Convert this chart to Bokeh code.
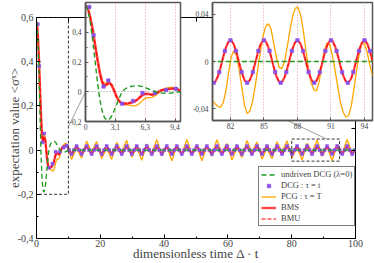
from bokeh.plotting import figure
from bokeh.models import FixedTicker, LinearAxis, Legend, LegendItem
from bokeh.embed import file_html
from bokeh.resources import INLINE

FONT = "Liberation Serif"

# ---------------- data ----------------
t_early = [0.0, 0.25, 0.5, 0.75, 1.0, 1.25, 1.5, 1.75, 2.0, 2.25, 2.5, 2.75, 3.0, 3.25, 3.5,
           3.75, 4.0, 4.25, 4.5, 4.75, 5.0, 5.25, 5.5, 5.75, 6.0, 6.25, 6.5, 6.75, 7.0, 7.25,
           7.5, 7.75, 8.0, 8.25, 8.5, 8.75, 9.0, 9.25, 9.5, 9.75, 10.0]
undriven_early = [0.58, 0.55, 0.47, 0.35, 0.21, 0.07, -0.05, -0.13, -0.175, -0.19, -0.185, -0.165,
                  -0.13, -0.09, -0.05, -0.015, 0.01, 0.022, 0.03, 0.035, 0.038, 0.04, 0.04, 0.038,
                  0.035, 0.029, 0.022, 0.016, 0.01, 0.004, -0.002, -0.005, -0.008, -0.009, -0.01,
                  -0.009, -0.008, -0.006, -0.004, -0.002, 0.0]
bms_early = [0.58, 0.56, 0.50, 0.42, 0.32, 0.22, 0.13, 0.065, 0.04, 0.05, 0.06, 0.045, 0.01,
             -0.03, -0.06, -0.075, -0.08, -0.08, -0.078, -0.074, -0.07, -0.062, -0.05, -0.035,
             -0.022, -0.015, -0.014, -0.017, -0.02, -0.016, -0.008, 0.002, 0.01, 0.014, 0.016,
             0.018, 0.02, 0.022, 0.021, 0.015, 0.006]
pcg_early = [0.58, 0.56, 0.50, 0.42, 0.32, 0.22, 0.135, 0.075, 0.055, 0.065, 0.07, 0.05, 0.01,
             -0.035, -0.065, -0.08, -0.085, -0.088, -0.09, -0.092, -0.095, -0.094, -0.088, -0.075,
             -0.058, -0.045, -0.04, -0.04, -0.038, -0.03, -0.018, -0.005, 0.008, 0.018, 0.024,
             0.028, 0.03, 0.03, 0.026, 0.016, 0.004]
dcg_early_t = [0.4, 0.85, 1.9, 2.4, 3.85, 5.0, 6.0, 7.3, 8.5, 9.5]
dcg_early = [0.57, 0.38, 0.035, 0.075, -0.08, -0.062, -0.008, -0.008, 0.012, 0.02]

t_late = [10.21, 11.00, 11.78, 12.57, 13.35, 14.14, 14.92, 15.71, 16.49, 17.28, 18.06, 18.85,
          19.63, 20.42, 21.21, 21.99, 22.78, 23.56, 24.35, 25.13, 25.92, 26.70, 27.49, 28.27,
          29.06, 29.85, 30.63, 31.42, 32.20, 32.99, 33.77, 34.56, 35.34, 36.13, 36.91, 37.70,
          38.48, 39.27, 40.06, 40.84, 41.63, 42.41, 43.20, 43.98, 44.77, 45.55, 46.34, 47.12,
          47.91, 48.69, 49.48, 50.27, 51.05, 51.84, 52.62, 53.41, 54.19, 54.98, 55.76, 56.55,
          57.33, 58.12, 58.90, 59.69, 60.48, 61.26, 62.05, 62.83, 63.62, 64.40, 65.19, 65.97,
          66.76, 67.54, 68.33, 69.12, 69.90, 70.69, 71.47, 72.26, 73.04, 73.83, 74.61, 75.40,
          76.18, 76.97, 77.75, 78.54, 79.33, 80.11, 80.90, 81.68, 82.47, 83.25, 84.04, 84.82,
          85.61, 86.39, 87.18, 87.96, 88.75, 89.54, 90.32, 91.11, 91.89, 92.68, 93.46, 94.25,
          95.03, 95.82, 96.60, 97.39, 98.17, 98.96, 99.75]
bms_late = [0, -0.018, 0, 0.018, 0, -0.018, 0, 0.018, 0, -0.018, 0, 0.018, 0, -0.018, 0, 0.018,
            0, -0.018, 0, 0.018, 0, -0.018, 0, 0.018, 0, -0.018, 0, 0.018, 0, -0.018, 0, 0.018,
            0, -0.018, 0, 0.018, 0, -0.018, 0, 0.018, 0, -0.018, 0, 0.018, 0, -0.018, 0, 0.018,
            0, -0.018, 0, 0.018, 0, -0.018, 0, 0.018, 0, -0.018, 0, 0.018, 0, -0.018, 0, 0.018,
            0, -0.018, 0, 0.018, 0, -0.018, 0, 0.018, 0, -0.018, 0, 0.018, 0, -0.018, 0, 0.018,
            0, -0.018, 0, 0.018, 0, -0.018, 0, 0.018, 0, -0.018, 0, 0.018, 0, -0.018, 0, 0.018,
            0, -0.018, 0, 0.018, 0, -0.018, 0, 0.018, 0, -0.018, 0, 0.018, 0, -0.018, 0, 0.018,
            0, -0.018, 0]
pcg_late = [-0.006, -0.043, -0.017, 0.013, -0.014, -0.036, 0.003, 0.041,
            0.016, -0.012, 0.015, 0.039, 0.001, -0.038, -0.015, 0.012,
            -0.017, -0.042, -0.004, 0.035, 0.013, -0.013, 0.018, 0.044,
            0.007, -0.032, -0.010, 0.014, -0.018, -0.046, -0.010, 0.028,
            0.007, -0.016, 0.018, 0.047, 0.013, -0.025, -0.004, 0.018,
            -0.017, -0.048, -0.015, 0.022, 0.001, -0.021, 0.015, 0.048,
            0.016, -0.019, 0.003, 0.024, -0.014, -0.048, -0.017, 0.017,
            -0.006, -0.027, 0.011, 0.047, 0.018, -0.015, 0.009, 0.030,
            -0.009, -0.045, -0.018, 0.013, -0.011, -0.033, 0.005, 0.043,
            0.017, -0.012, 0.014, 0.036, -0.002, -0.041, -0.016, 0.012,
            -0.016, -0.039, -0.001, 0.038, 0.014, -0.012, 0.017, 0.042,
            0.004, -0.035, -0.012, 0.013, -0.018, -0.044, -0.007, 0.031,
            0.010, -0.014, 0.018, 0.046, 0.010, -0.028, -0.007, 0.016,
            -0.018, -0.047, -0.013, 0.025, 0.004, -0.018, 0.017, 0.048,
            0.015, -0.022, -0.001]
undriven_late_t = [10.0, 100.0]
undriven_late = [0.0, 0.0]

t_zoom = [80.0, 80.25, 80.5, 80.75, 81.0, 81.25, 81.5, 81.75, 82.0, 82.25, 82.5, 82.75, 83.0,
          83.25, 83.5, 83.75, 84.0, 84.25, 84.5, 84.75, 85.0, 85.25, 85.5, 85.75, 86.0, 86.25,
          86.5, 86.75, 87.0, 87.25, 87.5, 87.75, 88.0, 88.25, 88.5, 88.75, 89.0, 89.25, 89.5,
          89.75, 90.0, 90.25, 90.5, 90.75, 91.0, 91.25, 91.5, 91.75, 92.0, 92.25, 92.5, 92.75,
          93.0, 93.25, 93.5, 93.75, 94.0, 94.25, 94.5, 94.75, 95.0]
bms_zoom = [-0.0176, -0.0173, -0.0128, -0.0052, 0.0037, 0.0117, 0.0168, 0.0178, 0.0145, 0.0076,
            -0.0012, -0.0096, -0.0158, -0.018, -0.0158, -0.0098, -0.0014, 0.0074, 0.0144, 0.0178,
            0.0169, 0.0118, 0.0039, -0.005, -0.0127, -0.0173, -0.0176, -0.0136, -0.0063, 0.0025,
            0.0108, 0.0164, 0.0179, 0.0151, 0.0086, 0.0, -0.0086, -0.0151, -0.018, -0.0164,
            -0.0108, -0.0025, 0.0063, 0.0136, 0.0176, 0.0173, 0.0127, 0.005, -0.0039, -0.0118,
            -0.0169, -0.0178, -0.0144, -0.0074, 0.0014, 0.0098, 0.0158, 0.018, 0.0153, 0.0089,
            0.0003]
pcg_zoom = [-0.033, -0.036, -0.038, -0.039, -0.035, -0.025, -0.010, 0.004, 0.009, 0.005, -0.007,
            -0.022, -0.037, -0.044, -0.042, -0.034, -0.021, -0.006, 0.009, 0.022, 0.030, 0.032,
            0.027, 0.015, 0.003, -0.005, -0.006, 0.000, 0.012, 0.026, 0.038, 0.045, 0.046, 0.040,
            0.027, 0.010, -0.006, -0.018, -0.024, -0.025, -0.017, -0.003, 0.010, 0.016, 0.014,
            0.005, -0.008, -0.022, -0.035, -0.043, -0.047, -0.046, -0.038, -0.024, -0.008, 0.006,
            0.015, 0.015, 0.008, -0.003, -0.012]
dcg_zoom_t = [80.11, 80.63, 81.16, 81.68, 82.20, 82.73, 83.25, 83.78, 84.30, 84.82, 85.35, 85.87,
              86.39, 86.92, 87.44, 87.96, 88.49, 89.01, 89.54, 90.06, 90.58, 91.11, 91.63, 92.15,
              92.68, 93.20, 93.73, 94.25, 94.77]
dcg_zoom = [-0.018, -0.009, 0.009, 0.018, 0.009, -0.009, -0.018, -0.009, 0.009, 0.018, 0.009,
            -0.009, -0.018, -0.009, 0.009, 0.018, 0.009, -0.009, -0.018, -0.009, 0.009, 0.018,
            0.009, -0.009, -0.018, -0.009, 0.009, 0.018, 0.009]

# axes / ticks
main_x_ticks = [0, 20, 40, 60, 80, 100]
main_x_labels = ["0", "20", "40", "60", "80", "100"]
main_x_minor = [10, 30, 50, 70, 90]
main_y_ticks = [-0.4, -0.2, 0, 0.2, 0.4, 0.6]
main_y_labels = ["-0,4", "-0,2", "0", "0,2", "0,4", "0,6"]
main_y_minor = [-0.3, -0.1, 0.1, 0.3, 0.5]

inset1_x = (0, 10)
inset1_y = (-0.2, 0.6)
inset1_x_ticks = [0, 3.1416, 6.2832, 9.4248]
inset1_x_labels = ["0", "3,1", "6,3", "9,4"]
inset1_y_ticks = [-0.2, 0, 0.2, 0.4]
inset1_y_labels = ["-0,2", "0", "0,2", "0,4"]
inset1_y_minor = [-0.1, 0.1, 0.3, 0.5]

inset2_x = (80, 95)
inset2_y = (-0.05, 0.05)
inset2_x_ticks = [81.681, 84.823, 87.965, 91.106, 94.248]
inset2_x_labels = ["82", "85", "88", "91", "94"]
inset2_y_ticks = [-0.04, 0, 0.04]
inset2_y_labels = ["-0,04", "0", "0,04"]

# leader lines from zoom boxes to insets (main-plot data coordinates)
leader1_x = [10.0, 15.4]
leader1_y = [0.106, 0.265]
leader2_x = [91.0, 77.2]
leader2_y = [0.05, 0.1435]

# ---------------- styles ----------------
C_GREEN = "#1f9a1f"
C_DCG = "#8a4fe6"
C_PCG = "#ffa500"
C_BMS = "#ff4545"
C_BMU = "#ff0000"


def style_axis(ax, ticks, minor, labels, size, color="black", width=1, tin=4, tmin=2):
    ax.ticker = FixedTicker(ticks=ticks, minor_ticks=minor)
    ax.major_label_overrides = dict(zip(ticks, labels))
    ax.major_label_text_font = FONT
    ax.major_label_text_font_size = size
    ax.major_tick_in = tin
    ax.major_tick_out = 0
    ax.minor_tick_in = tmin
    ax.minor_tick_out = 0
    ax.axis_line_color = color
    ax.axis_line_width = width
    ax.major_tick_line_color = color
    ax.minor_tick_line_color = color


def mirror_axis(ticks, minor, tin, color="black"):
    # tick marks only (no labels)
    ax = LinearAxis(ticker=FixedTicker(ticks=[], minor_ticks=list(ticks) + list(minor)))
    ax.minor_tick_in = tin
    ax.minor_tick_out = 0
    ax.major_tick_in = 0
    ax.major_tick_out = 0
    ax.minor_tick_line_color = color
    ax.axis_line_color = None
    return ax


# ---------------- main plot ----------------
main = figure(width=374, height=263, x_range=(0, 100), y_range=(-0.4, 0.6),
              output_backend="svg", toolbar_location=None,
              min_border_left=36, min_border_right=19, min_border_top=17, min_border_bottom=22)
main.grid.visible = False
main.outline_line_color = "black"
main.background_fill_color = "white"
main.border_fill_color = "white"

style_axis(main.xaxis[0], main_x_ticks, main_x_minor, main_x_labels, "10px")
style_axis(main.yaxis[0], main_y_ticks, main_y_minor, main_y_labels, "10px")
main.xaxis.major_label_standoff = 1
main.yaxis.major_label_standoff = 3
main.xaxis.axis_label = "dimensionless time Δ · t"
main.yaxis.axis_label = "expectation value <σˣ>"
for ax in (main.xaxis[0], main.yaxis[0]):
    ax.axis_label_text_font = FONT
    ax.axis_label_text_font_size = "13px"
    ax.axis_label_text_font_style = "normal"
main.xaxis.axis_label_standoff = -4
main.yaxis.axis_label_standoff = -7

main.add_layout(mirror_axis(main_y_ticks, main_y_minor, 4), "right")
main.add_layout(mirror_axis(main_x_ticks, main_x_minor, 4), "above")

t_main = t_early + t_late
r_pcg = main.line(t_main, pcg_early + pcg_late, line_color=C_PCG, line_width=1.3)
r_bms = main.line(t_main, bms_early + bms_late, line_color=C_BMS, line_width=2.4)
r_bmu = main.line(t_main, bms_early + bms_late, line_color=C_BMU, line_width=1.2, line_dash="4 2")
r_dcg = main.scatter(dcg_early_t + t_late, dcg_early + bms_late, marker="square", size=3,
                     fill_color=C_DCG, line_color=C_DCG, line_width=0.5)
r_und = main.line(t_early + undriven_late_t, undriven_early + undriven_late,
                  line_color=C_GREEN, line_width=1.3, line_dash="5 3")

# zoom boxes
main.quad(left=[inset1_x[0], inset2_x[0]], right=[inset1_x[1], inset2_x[1]],
          bottom=[inset1_y[0], inset2_y[0]], top=[inset1_y[1], inset2_y[1]],
          fill_alpha=0, line_color="#333333", line_width=1, line_dash="3 2")
main.line(leader1_x, leader1_y, line_color="#888888", line_width=0.8)
main.line(leader2_x, leader2_y, line_color="#888888", line_width=0.8)

legend = Legend(items=[
    LegendItem(label="undriven DCG (λ=0)", renderers=[r_und]),
    LegendItem(label="DCG : τ = t", renderers=[r_dcg]),
    LegendItem(label="PCG : τ = T", renderers=[r_pcg]),
    LegendItem(label="BMS", renderers=[r_bms]),
    LegendItem(label="BMU", renderers=[r_bmu]),
], location=(222, 12))
legend.label_text_font = FONT
legend.label_text_font_size = "8.5px"
legend.label_height = 9
legend.glyph_height = 9
legend.glyph_width = 15
legend.spacing = 1
legend.padding = 2
legend.margin = 0
legend.label_standoff = 5
legend.border_line_color = "black"
legend.border_line_width = 1
legend.background_fill_alpha = 1
main.add_layout(legend)


# ---------------- insets (separate roots, absolutely positioned on the page) ----------------
def make_inset(xr, yr, w, h, left, top, xt, xl, yt, yl, ym):
    f = figure(width=w, height=h, x_range=xr, y_range=yr, output_backend="svg",
               toolbar_location=None, min_border_left=40, min_border_right=2,
               min_border_top=2, min_border_bottom=14,
               styles={"position": "absolute", "left": f"{left}px", "top": f"{top}px"})
    f.border_fill_alpha = 0
    f.background_fill_color = "white"
    f.outline_line_color = "#555555"
    f.outline_line_width = 1.5
    style_axis(f.xaxis[0], xt, [], xl, "7.5px", "#555555", 1.5, 3, 2)
    style_axis(f.yaxis[0], yt, ym, yl, "7.5px", "#555555", 1.5, 3, 2)
    f.xaxis.major_label_standoff = 2
    f.yaxis.major_label_standoff = 4
    f.xgrid.ticker = FixedTicker(ticks=xt)
    f.xgrid.grid_line_color = "#e29a9a"
    f.xgrid.grid_line_dash = "1 2"
    f.ygrid.ticker = FixedTicker(ticks=[0])
    f.ygrid.grid_line_color = "#999999"
    f.ygrid.grid_line_dash = "1 2"
    return f


# inset 1: frame at x 85..180, y 2..121
ins1 = make_inset(inset1_x, inset1_y, 137, 135, 45, 0,
                  inset1_x_ticks, inset1_x_labels, inset1_y_ticks, inset1_y_labels, inset1_y_minor)
ins1.line(t_early, pcg_early, line_color=C_PCG, line_width=1.3)
ins1.line(t_early, bms_early, line_color=C_BMS, line_width=2.6)
ins1.line(t_early, bms_early, line_color=C_BMU, line_width=1.2, line_dash="4 2")
ins1.scatter(dcg_early_t, dcg_early, marker="square", size=3.5, fill_color=C_DCG,
             line_color=C_DCG, line_width=0.5)
ins1.line(t_early, undriven_early, line_color=C_GREEN, line_width=1.4, line_dash="5 3")

# inset 2: frame at x 212..372, y 2..120
ins2 = make_inset(inset2_x, inset2_y, 202, 134, 172, 0,
                  inset2_x_ticks, inset2_x_labels, inset2_y_ticks, inset2_y_labels, [])
ins2.line(t_zoom, pcg_zoom, line_color=C_PCG, line_width=1.3)
ins2.line(t_zoom, bms_zoom, line_color=C_BMS, line_width=2.2)
ins2.line(t_zoom, bms_zoom, line_color=C_BMU, line_width=1.0, line_dash="4 2")
ins2.scatter(dcg_zoom_t, dcg_zoom, marker="square", size=3.5, fill_color=C_DCG,
             line_color=C_DCG, line_width=0.5)
ins2.line(undriven_late_t, undriven_late, line_color=C_GREEN, line_width=1.4, line_dash="5 3")

open("out.html", "w").write(file_html([main, ins1, ins2], INLINE))
